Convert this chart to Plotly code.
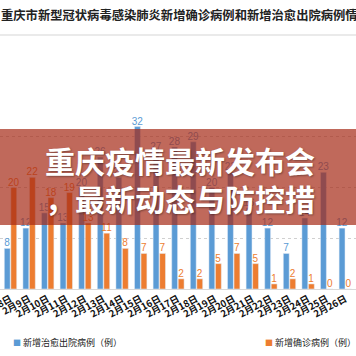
import plotly.graph_objects as go

dates = ["2月7日", "2月8日", "2月9日", "2月10日", "2月11日", "2月12日", "2月13日",
         "2月14日", "2月15日", "2月16日", "2月17日", "2月18日", "2月19日", "2月20日",
         "2月21日", "2月22日", "2月23日", "2月24日", "2月25日", "2月26日", "2月27日"]
cured = [5, 8, 12, 15, 13, 20, 26, 22, 32, 27, 28, 29, 20, 23, 16, 12, 7, 14, 23, 12, 11]
confirmed = [16, 20, 22, 18, 19, 13, 11, 8, 7, 7, 2, 2, 5, 7, 5, 1, 2, 1, 0, 0, 0]

title_text = "重庆市新型冠状病毒感染肺炎新增确诊病例和新增治愈出院病例情况"
banner_line1 = "重庆疫情最新发布会"
banner_line2 = "，最新动态与防控措"
legend_cured = "新增治愈出院病例（例）"
legend_confirmed = "新增确诊病例（例）"

BLUE = "#5B9BD5"
ORANGE = "#ED7D31"
W, H = 356, 356
PT, PB = 86, 289  # plot top / bottom in px


def py(px):
    return (PB - px) / (PB - PT)


fig = go.Figure()
fig.add_trace(go.Bar(x=dates, y=cured, name=legend_cured, marker_color=BLUE,
                     text=cured, textposition="outside", cliponaxis=False,
                     constraintext="none",
                     textfont=dict(color=BLUE, size=10, family="Liberation Sans")))
fig.add_trace(go.Bar(x=dates, y=confirmed, name=legend_confirmed, marker_color=ORANGE,
                     text=confirmed, textposition="outside", cliponaxis=False,
                     constraintext="none",
                     textfont=dict(color=ORANGE, size=10, family="Liberation Sans")))

fig.update_layout(
    width=W, height=H,
    margin=dict(l=0, r=0, t=PT, b=H - PB, autoexpand=False),
    plot_bgcolor="white", paper_bgcolor="white",
    barmode="group", bargap=0.3, bargroupgap=0.1,
    showlegend=False,
    font=dict(family="Noto Sans CJK SC"),
)
fig.update_xaxes(range=[0.435, 19.575], tickangle=-28, showgrid=False, automargin=False,
                 tickfont=dict(size=9.5, color="#111", family="Noto Sans CJK SC", weight="bold"),
                 showline=True, linecolor="#d9d9d9", ticks="")
fig.update_yaxes(range=[0, 40], dtick=10, showticklabels=False, showgrid=True, automargin=False,
                 gridcolor="#d0d0d0", griddash="dot", zeroline=False)

# top separator line
fig.add_shape(type="line", xref="paper", yref="paper", x0=0, x1=1, y0=py(35), y1=py(35),
              line=dict(color="#e3e3e3", width=1.5), layer="above")
# red banner
fig.add_shape(type="rect", xref="paper", yref="paper", x0=-0.02, x1=1.02,
              y0=py(225), y1=py(129), fillcolor="rgba(165,41,21,0.7)",
              line=dict(width=0), layer="above")

fig.add_annotation(text="<b>" + title_text + "</b>", xref="paper", yref="paper",
                   x=-1 / W, y=py(15), xanchor="left", yanchor="middle", showarrow=False,
                   font=dict(size=12.3, color="#222", family="Noto Sans CJK SC"))
fig.add_annotation(text="<b>" + banner_line1 + "</b>", xref="paper", yref="paper",
                   x=43 / W, y=py(160), xanchor="left", yanchor="middle", showarrow=False,
                   font=dict(size=30, color="white", family="Noto Sans CJK SC",
                             shadow="1px 1px 2px rgba(0,0,0,0.35)"))
fig.add_annotation(text="<b>" + banner_line2 + "</b>", xref="paper", yref="paper",
                   x=43 / W, y=py(198), xanchor="left", yanchor="middle", showarrow=False,
                   font=dict(size=30, color="white", family="Noto Sans CJK SC",
                             shadow="1px 1px 2px rgba(0,0,0,0.35)"))

fig.add_annotation(text=f"<span style='color:{BLUE};font-size:8px'>■</span> " + legend_cured,
                   xref="paper", yref="paper", x=11 / W, y=py(342), xanchor="left",
                   yanchor="middle", showarrow=False,
                   font=dict(size=9, color="#222", family="Noto Sans CJK SC"))
fig.add_annotation(text=f"<span style='color:{ORANGE};font-size:8px'>■</span> " + legend_confirmed,
                   xref="paper", yref="paper", x=263 / W, y=py(342), xanchor="left",
                   yanchor="middle", showarrow=False,
                   font=dict(size=9, color="#222", family="Noto Sans CJK SC"))

fig.write_html("out.html", config={"staticPlot": True, "displayModeBar": False},
               post_script="document.body.style.margin='0';")
